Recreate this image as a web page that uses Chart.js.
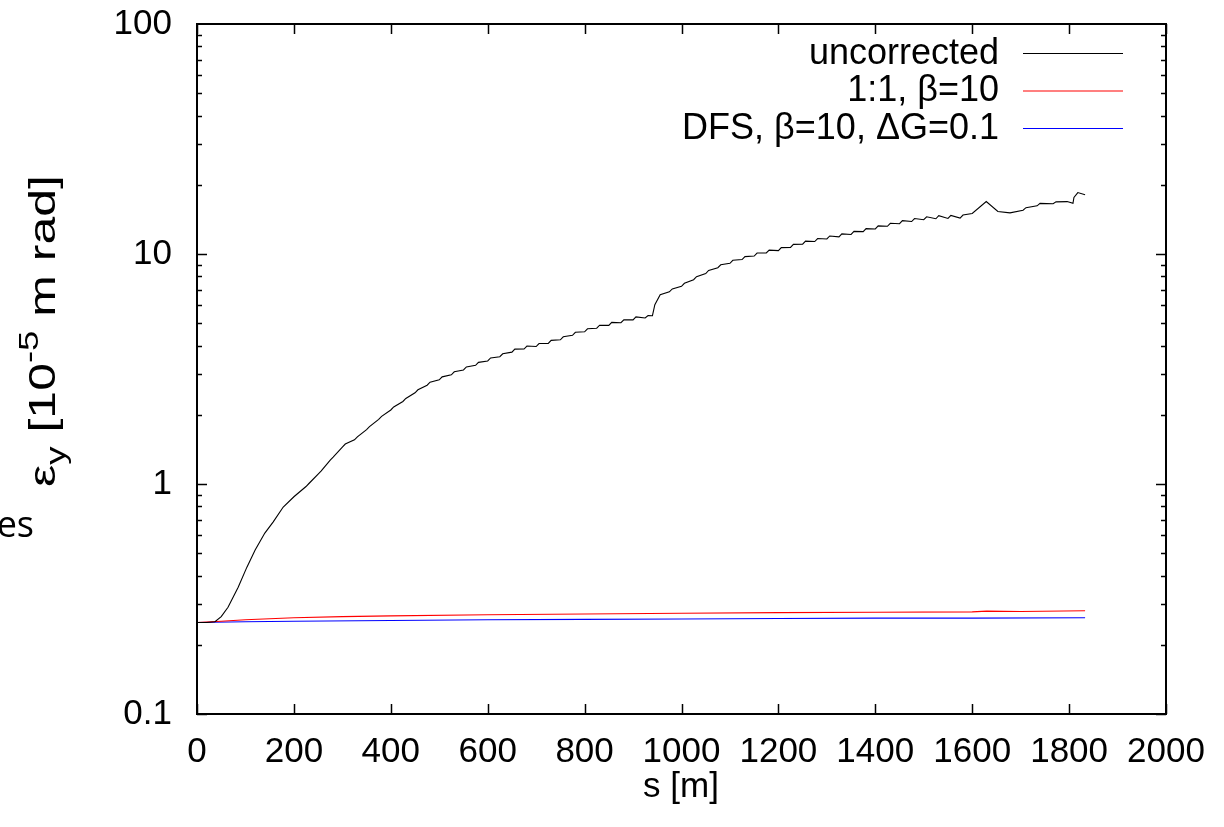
<!DOCTYPE html>
<html>
<head>
<meta charset="utf-8">
<script src="https://cdn.jsdelivr.net/npm/chart.js@4.4.1/dist/chart.umd.min.js"></script>
<style>
  body { margin: 0; background: #fff; }
  canvas { display: block; }
</style>
</head>
<body>
<canvas id="emitChart" width="1224" height="827"></canvas>
<script>
// s [m] and vertical emittance [1e-5 m rad]
const uncorrS = [0, 20, 37, 50, 64, 85, 103, 120, 140, 157, 178, 200,
    225, 231, 250, 256, 275, 281, 300, 306, 325, 331, 350, 356, 375, 381, 400, 406,
    425, 431, 450, 456, 475, 481, 500, 506, 525, 531, 550, 556, 575, 581, 600, 606,
    625, 631, 650, 656, 675, 681, 700, 706, 725, 731, 750, 756, 775, 781, 800, 806,
    825, 831, 850, 856, 875, 881, 900, 906, 925, 931, 940, 945, 956,
    975, 981, 1000, 1006, 1025, 1031, 1050, 1056, 1075, 1081, 1100, 1106,
    1125, 1131, 1150, 1156, 1175, 1181, 1200, 1206, 1225, 1231, 1250, 1256,
    1275, 1281, 1300, 1306, 1325, 1331, 1350, 1356, 1375, 1381, 1400, 1406,
    1425, 1431, 1450, 1456, 1475, 1481, 1500, 1506, 1525, 1531, 1550, 1556,
    1575, 1581, 1600, 1629, 1653, 1678, 1705, 1711, 1734, 1740, 1767, 1773,
    1796, 1808, 1810, 1818, 1833];
const uncorrEps = [0.25, 0.25, 0.252, 0.265, 0.291, 0.356, 0.435, 0.516, 0.612, 0.683, 0.794, 0.88,
    0.975, 1.005, 1.103, 1.137, 1.271, 1.309, 1.448, 1.492, 1.556, 1.604, 1.724, 1.776, 1.911, 1.969, 2.098, 2.162,
    2.285, 2.355, 2.492, 2.568, 2.689, 2.771, 2.837, 2.923, 2.985, 3.075, 3.132, 3.228, 3.280, 3.380, 3.428, 3.532,
    3.576, 3.684, 3.743, 3.857, 3.861, 3.979, 3.960, 4.080, 4.088, 4.212, 4.236, 4.364, 4.433, 4.567, 4.590, 4.730,
    4.758, 4.902, 4.895, 5.045, 5.024, 5.176, 5.171, 5.329, 5.27, 5.40, 5.39, 6.02, 6.65,
    6.85, 7.05, 7.24, 7.46, 7.73, 7.97, 8.22, 8.48, 8.72, 8.98, 9.11, 9.39,
    9.46, 9.74, 9.80, 10.10, 10.10, 10.40, 10.34, 10.66, 10.69, 11.01, 11.03, 11.37,
    11.33, 11.67, 11.62, 11.98, 11.87, 12.23, 12.16, 12.54, 12.51, 12.89, 12.85, 13.25,
    13.20, 13.60, 13.54, 13.96, 13.84, 14.26, 14.09, 14.51, 14.23, 14.67, 14.28, 14.72,
    14.33, 14.77, 15.0, 16.9, 15.3, 15.1, 15.5, 15.9, 16.2, 16.6, 16.55, 16.85,
    16.9, 16.6, 17.6, 18.5, 18.1];

const oneToOneS = [0, 50, 100, 200, 300, 400, 600, 800, 1000, 1200, 1400, 1600, 1630, 1700, 1833];
const oneToOneEps = [0.25, 0.253, 0.257, 0.262, 0.265, 0.267, 0.270, 0.272, 0.274, 0.276, 0.277, 0.278, 0.280, 0.279, 0.281];

const dfsS = [0, 100, 200, 400, 600, 800, 1000, 1200, 1400, 1600, 1833];
const dfsEps = [0.25, 0.252, 0.253, 0.255, 0.257, 0.258, 0.259, 0.260, 0.261, 0.261, 0.262];

const seriesNames = ['uncorrected', '1:1, β=10', 'DFS, β=10, ΔG=0.1'];
const seriesColors = ['#000000', '#ff0000', '#0000ff'];

const xTicks = [0, 200, 400, 600, 800, 1000, 1200, 1400, 1600, 1800, 2000];
const yTicks = [0.1, 1, 10, 100];

const FONT = 'Liberation Sans, Arial, Helvetica, sans-serif';

function toPoints(xs, ys) {
    return xs.map((x, i) => ({ x: x, y: ys[i] }));
}

// gnuplot-style frame, inward ticks, legend and axis titles
const decorations = {
    id: 'decorations',
    afterDraw(chart) {
        const ctx = chart.ctx;
        const area = chart.chartArea;
        const xs = chart.scales.x;
        const ys = chart.scales.y;

        ctx.save();
        ctx.strokeStyle = '#000';
        ctx.lineWidth = 1.5;

        // x ticks, bottom and top
        xTicks.forEach(v => {
            const px = Math.round(xs.getPixelForValue(v)) + 0.5;
            ctx.beginPath();
            ctx.moveTo(px, area.bottom);
            ctx.lineTo(px, area.bottom - 10);
            ctx.moveTo(px, area.top);
            ctx.lineTo(px, area.top + 10);
            ctx.stroke();
        });

        // y ticks, major and minor, left and right
        for (let d = 0.1; d < 100; d *= 10) {
            for (let m = 1; m <= 9; m++) {
                const v = d * m;
                const len = m === 1 ? 10 : 5;
                const py = Math.round(ys.getPixelForValue(v)) + 0.5;
                ctx.beginPath();
                ctx.moveTo(area.left, py);
                ctx.lineTo(area.left + len, py);
                ctx.moveTo(area.right, py);
                ctx.lineTo(area.right - len, py);
                ctx.stroke();
            }
        }

        // frame
        ctx.lineWidth = 2;
        ctx.strokeRect(area.left, area.top, area.right - area.left, area.bottom - area.top);

        // legend
        ctx.font = '36px ' + FONT;
        ctx.fillStyle = '#000';
        ctx.textAlign = 'right';
        ctx.textBaseline = 'middle';
        chart.data.datasets.forEach((ds, i) => {
            const y = 54 + i * 37.5;
            ctx.fillText(ds.label, 999, y);
            ctx.strokeStyle = ds.borderColor;
            ctx.lineWidth = 1.2;
            ctx.beginPath();
            ctx.moveTo(1023, y - 0.5);
            ctx.lineTo(1123, y - 0.5);
            ctx.stroke();
        });

        // x title
        ctx.font = '35px ' + FONT;
        ctx.textAlign = 'center';
        ctx.textBaseline = 'alphabetic';
        ctx.fillText('s [m]', 681, 797);

        // y title with sub/superscript, stretched along its length
        ctx.save();
        ctx.translate(55, 487);
        ctx.rotate(-Math.PI / 2);
        ctx.textAlign = 'left';
        const parts = [
            ['ε', 37, 0],
            ['y', 27, 10],
            [' [10', 37, 0],
            ['-5', 27, -17],
            [' m rad]', 37, 0]
        ];
        let total = 0;
        parts.forEach(p => {
            ctx.font = p[1] + 'px ' + FONT;
            total += ctx.measureText(p[0]).width;
        });
        ctx.scale(312 / total, 1);
        let cx = 0;
        parts.forEach(p => {
            ctx.font = p[1] + 'px ' + FONT;
            ctx.fillText(p[0], cx, p[2]);
            cx += ctx.measureText(p[0]).width;
        });
        ctx.restore();

        // clipped fragment at the left edge
        ctx.font = '36px "Open Sans", "DejaVu Sans", sans-serif';
        ctx.textAlign = 'right';
        ctx.textBaseline = 'alphabetic';
        ctx.fillText('es', 34, 537);

        ctx.restore();
    }
};

const ctx = document.getElementById('emitChart').getContext('2d');
const emitChart = new Chart(ctx, {
    type: 'scatter',
    data: {
        datasets: [
            {
                label: seriesNames[0],
                data: toPoints(uncorrS, uncorrEps),
                borderColor: seriesColors[0],
                showLine: true
            },
            {
                label: seriesNames[1],
                data: toPoints(oneToOneS, oneToOneEps),
                borderColor: seriesColors[1],
                showLine: true
            },
            {
                label: seriesNames[2],
                data: toPoints(dfsS, dfsEps),
                borderColor: seriesColors[2],
                showLine: true
            }
        ]
    },
    options: {
        responsive: false,
        animation: false,
        layout: { padding: { left: 0, right: 58, top: 24, bottom: 0 } },
        elements: {
            point: { radius: 0, hoverRadius: 0 },
            line: { borderWidth: 1.1, tension: 0, fill: false }
        },
        plugins: {
            legend: { display: false },
            tooltip: { enabled: false }
        },
        scales: {
            x: {
                type: 'linear',
                min: 0,
                max: 2000,
                afterBuildTicks: scale => { scale.ticks = xTicks.map(v => ({ value: v })); },
                ticks: {
                    color: '#000',
                    font: { family: FONT, size: 35 },
                    padding: 17,
                    maxRotation: 0,
                    autoSkip: false,
                    callback: v => String(v)
                },
                grid: { display: false, drawTicks: false },
                border: { display: false },
                afterFit: scale => {
                    scale.height = 113;
                    scale.paddingLeft = 0;
                    scale.paddingRight = 0;
                }
            },
            y: {
                type: 'logarithmic',
                min: 0.1,
                max: 100,
                afterBuildTicks: scale => { scale.ticks = yTicks.map(v => ({ value: v })); },
                ticks: {
                    color: '#000',
                    font: { family: FONT, size: 35 },
                    padding: 25,
                    autoSkip: false,
                    callback: v => String(v)
                },
                grid: { display: false, drawTicks: false },
                border: { display: false },
                afterFit: scale => {
                    scale.width = 197;
                    scale.paddingTop = 0;
                    scale.paddingBottom = 0;
                }
            }
        }
    },
    plugins: [decorations]
});
</script>
</body>
</html>
